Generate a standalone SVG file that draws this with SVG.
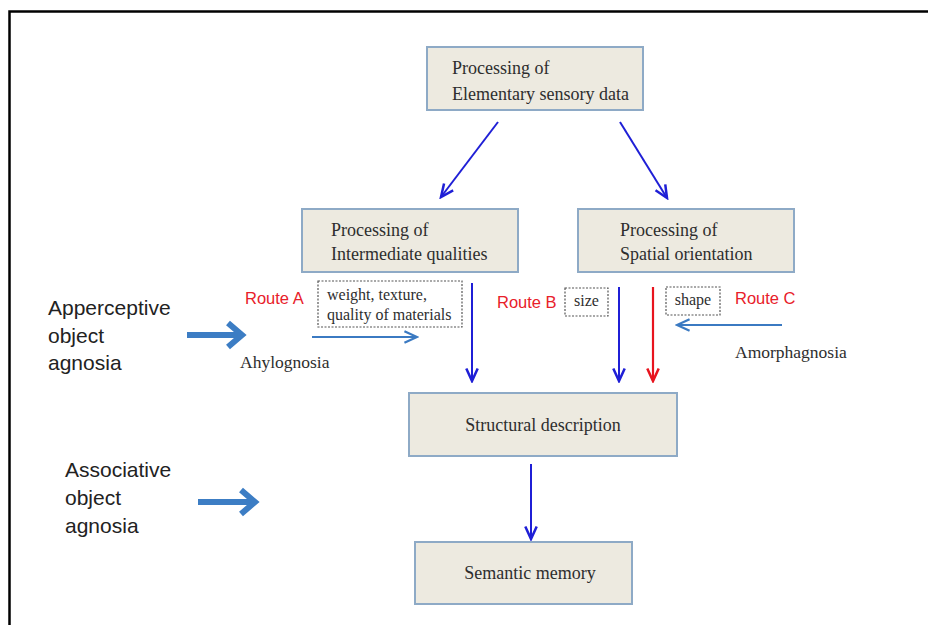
<svg xmlns="http://www.w3.org/2000/svg" width="928" height="625" viewBox="0 0 928 625">
<defs>
<style>
.box{fill:#edeae0;stroke:#8eaac6;stroke-width:2}
.dbox{fill:#fff;stroke:#555;stroke-width:1.2;stroke-dasharray:2,1.5}
.bt{font-family:"Liberation Serif",serif;font-size:18px;fill:#2e2e2e}
.st{font-family:"Liberation Serif",serif;font-size:16px;fill:#2e2e2e}
.lt{font-family:"Liberation Sans",Arial,sans-serif;font-size:21px;fill:#222}
.rt{font-family:"Liberation Sans",Arial,sans-serif;font-size:16.5px;fill:#e8202a}
.nt{font-family:"Liberation Serif",serif;font-size:17.5px;fill:#2e2e2e}
.ab{stroke:#1f1fd6;stroke-width:2;fill:none}
.ar{stroke:#e8141e;stroke-width:2.2;fill:none}
.as{stroke:#3b7ac2;stroke-width:2;fill:none}
.big{stroke:#3c7dc4;stroke-width:6;fill:none}
</style>
<marker id="mb" markerUnits="userSpaceOnUse" markerWidth="16" markerHeight="16" refX="12" refY="6" orient="auto" viewBox="0 0 14 12">
<path d="M1,1 L12,6 L1,11" fill="none" stroke="#1f1fd6" stroke-width="2.2"/>
</marker>
<marker id="mr" markerUnits="userSpaceOnUse" markerWidth="16" markerHeight="16" refX="12" refY="6" orient="auto" viewBox="0 0 14 12">
<path d="M1,1 L12,6 L1,11" fill="none" stroke="#e8141e" stroke-width="2.2"/>
</marker>
<marker id="ms" markerUnits="userSpaceOnUse" markerWidth="16" markerHeight="16" refX="12" refY="6" orient="auto" viewBox="0 0 14 12">
<path d="M1,1 L12,6 L1,11" fill="none" stroke="#3b7ac2" stroke-width="2"/>
</marker>
</defs>
<rect x="0" y="0" width="928" height="625" fill="#fff"/>
<rect x="9.5" y="11.5" width="940" height="640" fill="none" stroke="#000" stroke-width="2.5"/>

<g id="node-elementary">
<rect class="box" x="427" y="47" width="216" height="63"/>
<text class="bt" x="452" y="74">Processing of</text>
<text class="bt" x="452" y="100">Elementary sensory data</text>
</g>
<g id="node-intermediate">
<rect class="box" x="302" y="209" width="216" height="63"/>
<text class="bt" x="331" y="236">Processing of</text>
<text class="bt" x="331" y="260">Intermediate qualities</text>
</g>
<g id="node-spatial">
<rect class="box" x="578" y="209" width="216" height="63"/>
<text class="bt" x="620" y="236">Processing of</text>
<text class="bt" x="620" y="260">Spatial orientation</text>
</g>
<g id="node-structural">
<rect class="box" x="409" y="393" width="268" height="63"/>
<text class="bt" x="543" y="431" text-anchor="middle">Structural description</text>
</g>
<g id="node-semantic">
<rect class="box" x="415" y="542" width="217" height="62"/>
<text class="bt" x="530" y="579" text-anchor="middle">Semantic memory</text>
</g>
<g id="node-weight">
<rect class="dbox" x="318" y="281" width="144" height="46"/>
<text class="st" x="327" y="300">weight, texture,</text>
<text class="st" x="327" y="320">quality of materials</text>
</g>
<g id="node-size">
<rect class="dbox" x="565" y="288" width="43" height="28"/>
<text class="st" x="586.5" y="306" text-anchor="middle">size</text>
</g>
<g id="node-shape">
<rect class="dbox" x="666" y="287" width="54" height="28"/>
<text class="st" x="693" y="305" text-anchor="middle">shape</text>
</g>

<g id="labels">
<text class="lt" x="48" y="315">Apperceptive</text>
<text class="lt" x="48" y="343">object</text>
<text class="lt" x="48" y="370">agnosia</text>
<text class="lt" x="65" y="477">Associative</text>
<text class="lt" x="65" y="505">object</text>
<text class="lt" x="65" y="533">agnosia</text>
<text class="rt" x="245" y="304">Route A</text>
<text class="rt" x="497" y="308">Route B</text>
<text class="rt" x="735" y="304">Route C</text>
<text class="nt" x="240" y="368">Ahylognosia</text>
<text class="nt" x="735" y="358">Amorphagnosia</text>
</g>

<g id="connectors">
<line class="ab" x1="498" y1="122" x2="441" y2="197" marker-end="url(#mb)"/>
<line class="ab" x1="620" y1="122" x2="667" y2="198" marker-end="url(#mb)"/>
<line class="ab" x1="472" y1="283" x2="472" y2="381" marker-end="url(#mb)"/>
<line class="ab" x1="619" y1="287" x2="619" y2="381" marker-end="url(#mb)"/>
<line class="ar" x1="653" y1="287" x2="653" y2="381" marker-end="url(#mr)"/>
<line class="ab" x1="531" y1="464" x2="531" y2="539" marker-end="url(#mb)"/>
<line class="as" x1="312" y1="337" x2="417" y2="337" marker-end="url(#ms)"/>
<line class="as" x1="782" y1="325" x2="677" y2="325" marker-end="url(#ms)"/>
<line class="big" x1="187" y1="335" x2="240" y2="335"/>
<polyline class="big" points="228,323 242,335 228,347"/>
<line class="big" x1="198" y1="502" x2="253" y2="502"/>
<polyline class="big" points="241,490 255,502 241,514"/>
</g>
</svg>
